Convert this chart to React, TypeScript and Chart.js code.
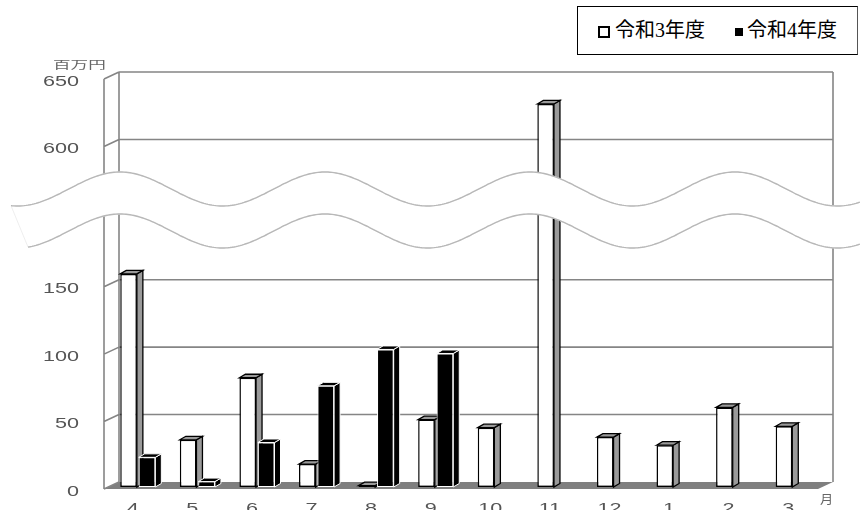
import React, { useEffect, useRef } from "react";
import Chart from "chart.js/auto";

const months = ["4", "5", "6", "7", "8", "9", "10", "11", "12", "1", "2", "3"];
const reiwa3 = [158, 35, 81, 17, 1, 50, 44, 630, 37, 31, 59, 45];
const reiwa4: (number | null)[] = [22, 4, 33, 75, 102, 99, null, null, null, null, null, null];
const yTicks = [0, 50, 100, 150, 600, 650];
const seriesNames = ["令和3年度", "令和4年度"];

// everything above the break gets pulled down by this much
const BREAK_SHIFT = 346;
const toDisplay = (v: number | null) =>
  v == null ? null : v >= 600 ? v - BREAK_SHIFT : v;

// back wall offset from the front plane, and bar depth
const WALL_DX = 15;
const WALL_DY = -7;
const BAR_DX = 6;
const BAR_DY = -3.5;

const waveTop = (x: number) => 189 - 17 * Math.cos((2 * Math.PI * (x - 120)) / 205);
const waveBottom = (x: number) => waveTop(x) + 42;

const stretchText = (
  ctx: CanvasRenderingContext2D,
  text: string,
  x: number,
  y: number,
  sx: number
) => {
  ctx.save();
  ctx.translate(x, y);
  ctx.scale(sx, 1);
  ctx.fillText(text, 0, 0);
  ctx.restore();
};

const frame3d = {
  id: "frame3d",
  beforeDatasetsDraw(chart: any) {
    const { ctx, chartArea: a, scales } = chart;
    const ys = scales.y;
    const fl = a.left - 4;
    const fr = a.right - 5;
    const fy = (v: number) => ys.getPixelForValue(v) + 2;
    const y0 = fy(0);
    const yTop = fy(toDisplay(650) as number);

    ctx.save();
    // floor
    ctx.fillStyle = "#7f7f7f";
    ctx.beginPath();
    ctx.moveTo(fl, y0);
    ctx.lineTo(fr, y0);
    ctx.lineTo(fr + WALL_DX, y0 + WALL_DY);
    ctx.lineTo(fl + WALL_DX, y0 + WALL_DY);
    ctx.closePath();
    ctx.fill();

    // grid on back wall + side wall
    ctx.strokeStyle = "#858585";
    ctx.lineWidth = 1.6;
    ctx.beginPath();
    yTicks.forEach((t) => {
      const py = fy(toDisplay(t) as number);
      if (t > 0) {
        ctx.moveTo(fl + WALL_DX, py + WALL_DY);
        ctx.lineTo(fr + WALL_DX, py + WALL_DY);
      }
      ctx.moveTo(fl, py);
      ctx.lineTo(fl + WALL_DX, py + WALL_DY);
    });
    ctx.moveTo(fl, yTop);
    ctx.lineTo(fl, y0);
    ctx.moveTo(fl + WALL_DX, yTop + WALL_DY);
    ctx.lineTo(fl + WALL_DX, y0 + WALL_DY);
    ctx.moveTo(fr + WALL_DX, yTop + WALL_DY);
    ctx.lineTo(fr + WALL_DX, y0 + WALL_DY);
    ctx.stroke();

    // side and top faces of the bars (fronts are drawn by chart.js on top)
    chart.data.datasets.forEach((ds: any, di: number) => {
      const meta = chart.getDatasetMeta(di);
      const dark = di === 1;
      meta.data.forEach((bar: any, i: number) => {
        if (ds.data[i] == null) return;
        const { x, y, base, width } = bar.getProps(["x", "y", "base", "width"], true);
        const l = x - width / 2;
        const r = x + width / 2;
        ctx.fillStyle = dark ? "#000" : "#9a9a9a";
        ctx.strokeStyle = dark ? "#fff" : "#000";
        ctx.lineWidth = dark ? 1 : 1.3;
        ctx.beginPath();
        ctx.moveTo(r, base);
        ctx.lineTo(r, y);
        ctx.lineTo(r + BAR_DX, y + BAR_DY);
        ctx.lineTo(r + BAR_DX, base + BAR_DY);
        ctx.closePath();
        ctx.fill();
        ctx.stroke();
        ctx.beginPath();
        ctx.moveTo(l, y);
        ctx.lineTo(l + BAR_DX, y + BAR_DY);
        ctx.lineTo(r + BAR_DX, y + BAR_DY);
        ctx.lineTo(r, y);
        ctx.closePath();
        ctx.fill();
        ctx.stroke();
      });
    });
    ctx.restore();
  },
  afterDatasetsDraw(chart: any) {
    const { ctx, chartArea: a, scales } = chart;
    const W = chart.width;

    // the wavy break band
    ctx.save();
    ctx.beginPath();
    ctx.moveTo(11, waveTop(11));
    for (let x = 12; x <= W + 2; x += 2) ctx.lineTo(x, waveTop(x));
    for (let x = W + 2; x >= 28; x -= 2) ctx.lineTo(x, waveBottom(x));
    ctx.closePath();
    ctx.fillStyle = "#fff";
    ctx.fill();
    ctx.strokeStyle = "#eeeeee";
    ctx.lineWidth = 1;
    ctx.stroke();
    ctx.strokeStyle = "#b8b8b8";
    ctx.lineWidth = 1.4;
    ctx.beginPath();
    ctx.moveTo(11, waveTop(11));
    for (let x = 12; x <= W + 2; x += 2) ctx.lineTo(x, waveTop(x));
    ctx.moveTo(28, waveBottom(28));
    for (let x = 30; x <= W + 2; x += 2) ctx.lineTo(x, waveBottom(x));
    ctx.stroke();

    // tick labels
    ctx.fillStyle = "#555";
    ctx.font = "15px 'Liberation Sans', Arial, sans-serif";
    ctx.textAlign = "right";
    ctx.textBaseline = "alphabetic";
    yTicks.forEach((t) => {
      const py = scales.y.getPixelForValue(toDisplay(t)) + 2;
      stretchText(ctx, String(t), 79, py + 6.5, 1.44);
    });
    ctx.textAlign = "center";
    months.forEach((m, i) => {
      const px = scales.x.getPixelForValue(i) - 5;
      stretchText(ctx, m, px, a.bottom + 26, 1.44);
    });

    ctx.fillStyle = "#666";
    ctx.textAlign = "left";
    ctx.textBaseline = "middle";
    ctx.font = "11px 'Noto Sans CJK JP', sans-serif";
    stretchText(ctx, "百万円", 53, 65, 1.6);
    ctx.font = "12px 'Noto Sans CJK JP', sans-serif";
    stretchText(ctx, "月", 820, 499, 1.1);
    ctx.restore();
  },
};

const App: React.FC = () => {
  const canvasRef = useRef<HTMLCanvasElement | null>(null);

  useEffect(() => {
    const ctx = canvasRef.current?.getContext("2d");
    if (!ctx) return;
    const chart = new Chart(ctx, {
      type: "bar",
      data: {
        labels: months,
        datasets: [
          {
            label: seriesNames[0],
            data: reiwa3.map(toDisplay),
            backgroundColor: "#fff",
            borderColor: "#000",
            borderWidth: 1.5,
            borderSkipped: false,
          },
          {
            label: seriesNames[1],
            data: reiwa4.map(toDisplay),
            backgroundColor: "#000",
            borderColor: "#fff",
            borderWidth: 1,
            borderSkipped: false,
          },
        ],
      },
      options: {
        animation: false,
        responsive: false,
        events: [],
        layout: { padding: { left: 108, right: 37, top: 77, bottom: 23 } },
        datasets: { bar: { categoryPercentage: 0.62, barPercentage: 0.9 } },
        plugins: { legend: { display: false }, tooltip: { enabled: false } },
        scales: {
          x: { display: false },
          y: { display: false, min: 0, max: toDisplay(650) as number },
        },
      },
      plugins: [frame3d],
    });
    return () => chart.destroy();
  }, []);

  const legendFont = "'Liberation Serif', 'Noto Sans CJK JP', serif";

  return (
    <div
      style={{
        position: "fixed",
        left: 0,
        top: 0,
        width: 860,
        height: 510,
        background: "#fff",
        overflow: "hidden",
      }}
    >
      <canvas ref={canvasRef} width={860} height={510} style={{ display: "block" }} />
      <div
        style={{
          position: "absolute",
          left: 577,
          top: 6,
          width: 279,
          height: 47,
          border: "1.5px solid #000",
          borderRightColor: "#555",
          background: "#fff",
          fontFamily: legendFont,
          fontSize: 20,
          color: "#000",
        }}
      >
        <span
          style={{
            position: "absolute",
            left: 20,
            top: 19,
            width: 8,
            height: 8,
            border: "2.5px solid #000",
          }}
        />
        <span style={{ position: "absolute", left: 37, top: 11, lineHeight: "24px", whiteSpace: "nowrap" }}>
          {seriesNames[0]}
        </span>
        <span
          style={{
            position: "absolute",
            left: 157,
            top: 21,
            width: 8,
            height: 8,
            background: "#000",
          }}
        />
        <span style={{ position: "absolute", left: 169, top: 11, lineHeight: "24px", whiteSpace: "nowrap" }}>
          {seriesNames[1]}
        </span>
      </div>
    </div>
  );
};

export default App;
